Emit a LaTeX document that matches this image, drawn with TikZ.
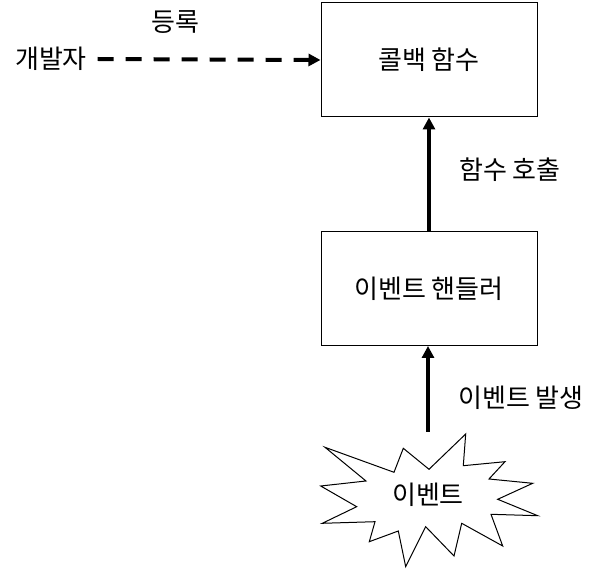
\documentclass[tikz,border=0pt]{standalone}
\usepackage{fontspec}
\setmainfont{Noto Sans CJK KR}
\usetikzlibrary{arrows.meta,positioning}
\tikzstyle{block} = [draw, line width=0.75pt, minimum width=162pt, minimum height=85.5pt, inner sep=0pt]
\tikzstyle{arrow} = [line width=3pt, -{Triangle[length=9pt,width=9pt]}]
\tikzstyle{dasharrow} = [arrow, dash pattern=on 12pt off 9pt]

\begin{document}
\begin{tikzpicture}[x=0.75pt, y=-0.75pt, font=\fontsize{19.5pt}{23pt}\selectfont]

	\useasboundingbox (0,0) rectangle (601,570);

	\node[block](callback) at (429,60) {콜백 함수};
	\node[block](handler) at (429,288.5) {이벤트 핸들러};
	\node(dev) at (51,59) {개발자};
	\node(register) at (175,22) {등록};
	\node(call) at (510,170) {함수 호출};
	\node(occur) at (521,398) {이벤트 발생};

	% explosion shape
	\draw[line width=0.75pt, fill=white] (465.7,434) -- (463.3,465.7) -- (505,461.7) -- (489,479)
		-- (532.7,483.3) -- (497.7,499.3) -- (537.7,515.7) -- (491,514.3) -- (502.7,546)
		-- (461.7,523.3) -- (454,556) -- (425.7,526.7) -- (405.7,566.7) -- (398.3,531)
		-- (369.3,541.7) -- (375,521.7) -- (322.3,523.3) -- (356.7,506.7) -- (320.7,486)
		-- (366,481) -- (325,447.3) -- (394,472.3) -- (403.3,448.3) -- (429,469.3) -- cycle;
	\node(event) at (428,495) {이벤트};
	\coordinate(eventtop) at (428,432);

	\draw[dasharrow] ([xshift=4.5pt]dev.east) -- (callback.west);
	\draw[arrow] (handler.north) -- (callback.south);
	\draw[arrow] (eventtop) -- (eventtop |- handler.south);

\end{tikzpicture}
\end{document}
